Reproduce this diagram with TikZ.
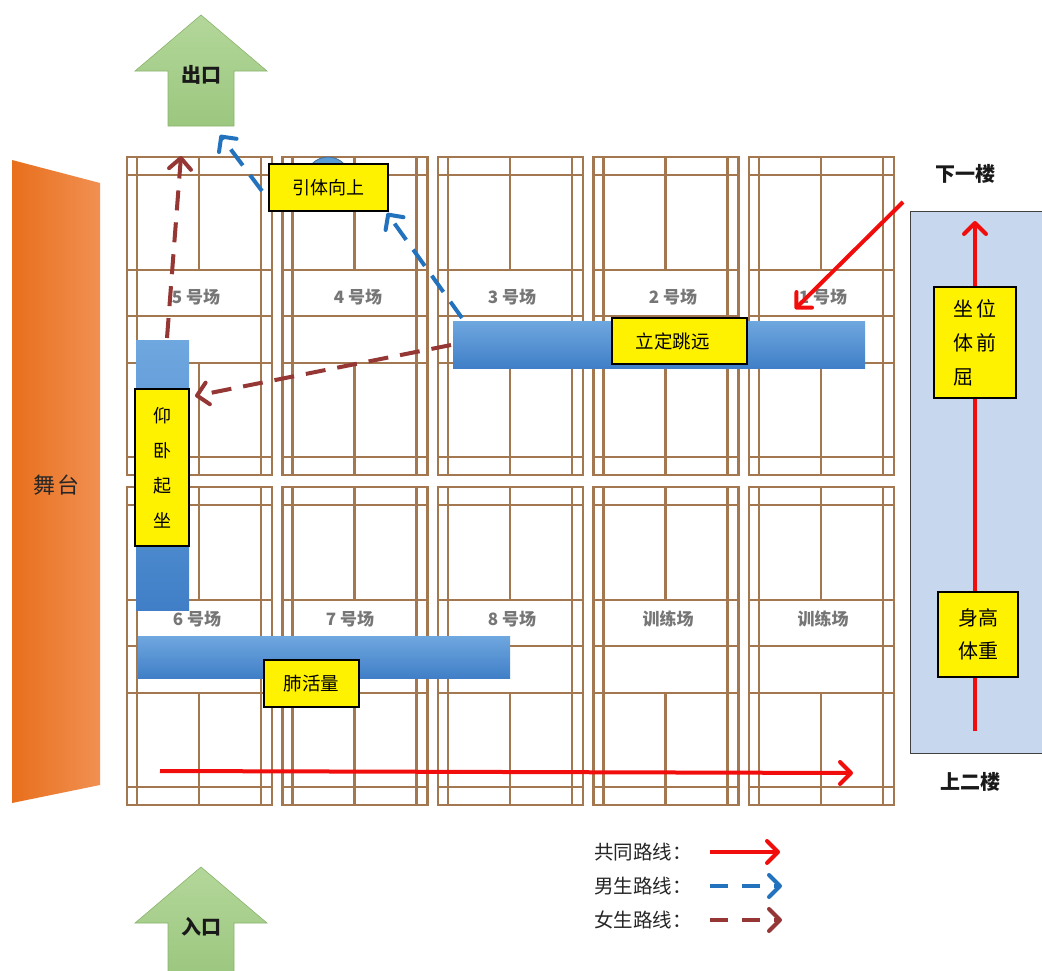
\documentclass[tikz,border=0pt]{standalone}
\usepackage{fontspec}
\newfontfamily\cjk{Noto Sans CJK SC}
\usetikzlibrary{arrows.meta}
\definecolor{courtc}{HTML}{A37850}
\definecolor{labelgray}{HTML}{767676}
\definecolor{barT}{HTML}{6FA7DF}
\definecolor{barB}{HTML}{407FC7}
\definecolor{arrred}{HTML}{F20D0D}
\definecolor{arrblue}{HTML}{2372BE}
\definecolor{arrbrown}{HTML}{953735}
\definecolor{panelc}{HTML}{C6D7EE}
\definecolor{stageL}{HTML}{E86F1C}
\definecolor{stageR}{HTML}{F19052}
\definecolor{greenT}{HTML}{B3D79A}
\definecolor{greenB}{HTML}{9CC77F}
\definecolor{greenD}{HTML}{8AB46C}
\definecolor{circc}{HTML}{5B9BD5}
\tikzset{
  court/.style={draw=courtc, line width=2.8pt},
  clabel/.style={font=\cjk\bfseries\fontsize{17}{20}\selectfont, text=labelgray, inner sep=0pt},
  ybox/.style={draw=black, line width=1.1pt, fill=yellow, inner sep=0pt},
  barbox/.style={top color=barT, bottom color=barB, inner sep=0pt, draw=none},
  tip/.style={-{Straight Barb[length=11pt,width=22pt,line width=4pt,round]}},
  redarr/.style={draw=arrred, line width=4pt, tip},
  bluearr/.style={draw=arrblue, line width=4pt, dash pattern=on 20pt off 12pt, tip},
  brownarr/.style={draw=arrbrown, line width=4pt, dash pattern=on 20pt off 12pt, tip},
  bigtxt/.style={font=\cjk\bfseries\fontsize{20}{24}\selectfont, text=black!90, inner sep=0pt},
  legtxt/.style={font=\cjk\fontsize{19.5}{22}\selectfont, text=black!85, inner sep=0pt, anchor=west},
  gate/.style={top color=greenT, bottom color=greenB, draw=greenD, line width=0.6pt}
}
\begin{document}
\begin{tikzpicture}[x=1pt,y=-1pt]
\path[use as bounding box] (0,0) rectangle (1042,970);
\clip (0,0) rectangle (1042,970);
\fill[white] (0,0) rectangle (1042,970);

% courts
\foreach \cx in {127,282.5,438,593.5,749}{
  \foreach \cy in {157,487}{
    \begin{scope}[shift={(\cx,\cy)}]
      \draw[court] (0,0) rectangle (145,318);
      \draw[court] (10,0) -- (10,318) (134,0) -- (134,318);
      \draw[court] (0,18) -- (145,18) (0,113) -- (145,113) (0,159) -- (145,159)
                   (0,206) -- (145,206) (0,300) -- (145,300);
      \draw[court] (72,0) -- (72,113) (72,206) -- (72,318);
    \end{scope}
  }
}

% court labels
\node[clabel] (c5) at (196,297) {5 号场};
\node[clabel] (c4) at (358,297) {4 号场};
\node[clabel] (c3) at (512,297) {3 号场};
\node[clabel] (c2) at (673,297) {2 号场};
\node[clabel] (c1) at (823,297) {1 号场};
\node[clabel] (c6) at (197,619) {6 号场};
\node[clabel] (c7) at (350,619) {7 号场};
\node[clabel] (c8) at (512,619) {8 号场};
\node[clabel] (t1) at (668,619) {训练场};
\node[clabel] (t2) at (823,619) {训练场};

% stage
\shade[left color=stageL, right color=stageR] (12,160) -- (100,183) -- (100,785) -- (12,803) -- cycle;
\node[font=\cjk\fontsize{22}{26}\selectfont, text=black!85, inner sep=0pt] (stage) at (57,485) {舞\hspace{2pt}台};

% exit / entrance
\shade[gate] (201,15) -- (267,71) -- (234,71) -- (234,126) -- (168,126) -- (168,71) -- (135,71) -- cycle;
\node[bigtxt] (exit) at (201,75) {出口};
\shade[gate] (201,867) -- (267,923) -- (234,923) -- (234,975) -- (168,975) -- (168,923) -- (135,923) -- cycle;
\node[bigtxt] (entry) at (201,927) {入口};

% right panel
\draw[fill=panelc, draw=black!75, line width=1pt] (910,211) rectangle (1060,753);
\node[bigtxt] (down) at (965,174) {下一楼};
\node[bigtxt] (up) at (970,782) {上二楼};

% station bars
\node[barbox, minimum width=412pt, minimum height=47pt] (ldbar) at (659,344.5) {};
\node[barbox, minimum width=53pt, minimum height=270pt] (ywbar) at (162.5,475) {};
\node[barbox, minimum width=372pt, minimum height=42pt] (fhbar) at (324,657) {};

% blue circle behind pull-up box
\draw[fill=circc, draw=circc!70!black, line width=0.8pt] (328,179) circle (22);

% coordinates for connectors
\coordinate (bstart) at (462,318);
\coordinate (btip1) at (387,213);
\coordinate (bstart2) at (262,191);
\coordinate (btip2) at (220,135);
\coordinate (rstart) at (451,345);
\coordinate (rtip1) at (195,396);
\coordinate (rstart2) at (167,338);
\coordinate (rtip2) at (181,156);
\coordinate (dstart) at (903,202);
\coordinate (dtip) at (795,309);
\coordinate (vstart) at (975,731);
\coordinate (vtip) at (975,221);
\coordinate (hstart) at (160,771);
\coordinate (htip) at (853,773);

% routes
\draw[bluearr] (bstart) -- (btip1);
\draw[bluearr] (bstart2) -- (btip2);
\draw[brownarr] (rstart) -- (rtip1);
\draw[brownarr] (rstart2) -- (rtip2);
\draw[redarr] (dstart) -- (dtip);
\draw[redarr] (vstart) -- (vtip);
\draw[redarr] (hstart) -- (htip);

% yellow station boxes
\node[ybox, minimum width=119pt, minimum height=47pt, font=\cjk\fontsize{18}{22}\selectfont] (yt) at (328.5,187.5) {引体向上};
\node[ybox, minimum width=135pt, minimum height=46pt, font=\cjk\fontsize{18.5}{22}\selectfont] (ld) at (679.5,341) {\hspace{-14pt}立定跳远};
\node[ybox, minimum width=54pt, minimum height=157pt, align=center, font=\cjk\fontsize{18}{35}\selectfont] (yw) at (162,467.5) {仰\\卧\\起\\坐};
\node[ybox, minimum width=95pt, minimum height=47pt, font=\cjk\fontsize{18.5}{22}\selectfont] (fh) at (311.5,683.5) {肺活量};
\node[ybox, minimum width=82pt, minimum height=111pt, align=left, font=\cjk\fontsize{20}{34}\selectfont] (zw) at (975,342.5) {坐\hspace{3pt}位\\体\hspace{3pt}前\\屈};
\node[ybox, minimum width=80pt, minimum height=85pt, align=left, font=\cjk\fontsize{20}{33}\selectfont] (sg) at (978,634.5) {身高\\体重};

% legend
\node[legtxt] (l1) at (594,852) {共同路线：};
\node[legtxt] (l2) at (594,886) {男生路线：};
\node[legtxt] (l3) at (594,920) {女生路线：};
\coordinate (l1a) at (710,852); \coordinate (l1b) at (780,852);
\coordinate (l2a) at (710,886); \coordinate (l2b) at (782,886);
\coordinate (l3a) at (710,920); \coordinate (l3b) at (782,920);
\draw[redarr] (l1a) -- (l1b);
\draw[bluearr, dash pattern=on 18pt off 14pt] (l2a) -- (l2b);
\draw[brownarr, dash pattern=on 18pt off 14pt] (l3a) -- (l3b);
\end{tikzpicture}
\end{document}
